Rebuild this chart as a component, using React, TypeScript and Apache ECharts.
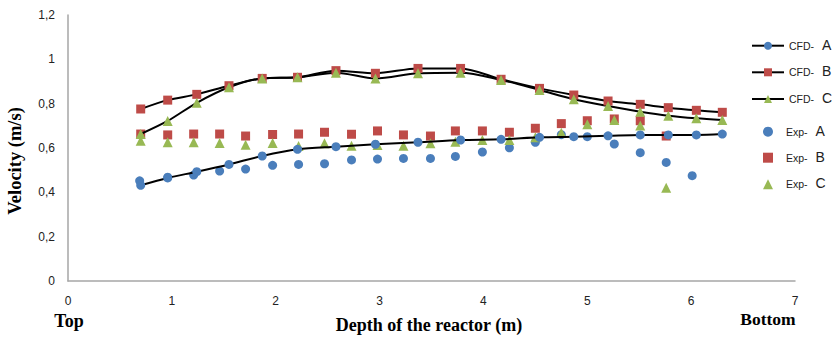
import React, { useEffect, useRef } from "react";
import * as echarts from "echarts";

const cfdDepth = [0.7, 0.96, 1.24, 1.55, 1.87, 2.21, 2.58, 2.96, 3.37, 3.78, 4.17, 4.54, 4.87, 5.2, 5.51, 5.78, 6.05, 6.3];
const cfdA = [0.432, 0.465, 0.493, 0.526, 0.564, 0.594, 0.606, 0.617, 0.626, 0.636, 0.639, 0.648, 0.651, 0.655, 0.659, 0.659, 0.659, 0.663];
const cfdB = [0.776, 0.816, 0.842, 0.881, 0.914, 0.919, 0.949, 0.937, 0.959, 0.959, 0.91, 0.869, 0.839, 0.812, 0.797, 0.782, 0.77, 0.761];
const cfdC = [0.663, 0.722, 0.804, 0.874, 0.914, 0.919, 0.94, 0.914, 0.937, 0.94, 0.907, 0.862, 0.82, 0.789, 0.764, 0.746, 0.734, 0.726];

const expDepthA = [0.69, 0.96, 1.21, 1.46, 1.71, 1.97, 2.22, 2.47, 2.73, 2.98, 3.23, 3.49, 3.73, 3.99, 4.25, 4.5, 4.75, 5.0, 5.26, 5.51, 5.76, 6.01];
const expA = [0.452, 0.468, 0.478, 0.496, 0.505, 0.522, 0.526, 0.529, 0.546, 0.55, 0.553, 0.553, 0.562, 0.582, 0.601, 0.626, 0.66, 0.651, 0.618, 0.579, 0.535, 0.475];
const expDepthBC = [0.7, 0.96, 1.21, 1.46, 1.71, 1.97, 2.22, 2.47, 2.73, 2.98, 3.23, 3.49, 3.73, 3.99, 4.25, 4.5, 4.75, 5.0, 5.26, 5.51, 5.76];
const expB = [0.663, 0.659, 0.663, 0.663, 0.654, 0.661, 0.663, 0.671, 0.662, 0.677, 0.659, 0.654, 0.677, 0.677, 0.671, 0.689, 0.71, 0.723, 0.731, 0.723, 0.654];
const expC = [0.633, 0.626, 0.626, 0.623, 0.615, 0.623, 0.609, 0.621, 0.61, 0.613, 0.61, 0.621, 0.628, 0.636, 0.636, 0.648, 0.669, 0.707, 0.726, 0.701, 0.421];

const cfdNames = ["CFD- A", "CFD- B", "CFD- C"];
const expNames = ["Exp- A", "Exp- B", "Exp- C"];

const BLUE = "#4a7ebb";
const RED = "#be4b48";
const GREEN = "#98b954";

const zip = (xs: number[], ys: number[]) => xs.map((x, i) => [x, ys[i]]);

export default function App() {
  const ref = useRef<HTMLDivElement>(null);
  useEffect(() => {
    if (!ref.current) return;
    const chart = echarts.init(ref.current, null, { renderer: "svg" });
    const sans = "Liberation Sans, Arial, sans-serif";
    const mkRich = (padA: number) => ({
      a: { fontFamily: sans, fontSize: 10.5, color: "#222", lineHeight: 16, padding: [0, 0, 0, padA] },
      b: { fontFamily: sans, fontSize: 14, color: "#222", lineHeight: 16, padding: [0, 0, 2, 8] },
    });
    const fmt = (n: string) => `{a|${n.split(" ")[0]}}{b|${n.split(" ")[1]}}`;
    const cfdCenters = [45.7, 72.3, 99];
    const expCenters = [131.7, 157.7, 184.3];
    const legends = [
      ...cfdNames.map((n, i) => ({
        orient: "vertical",
        left: 751,
        top: cfdCenters[i] - 8,
        padding: 0,
        itemWidth: 32,
        itemHeight: 10,
        data: [n],
        formatter: fmt,
        textStyle: { rich: mkRich(0) },
      })),
      ...expNames.map((n, i) => ({
        orient: "vertical",
        left: 763,
        top: expCenters[i] - 8,
        padding: 0,
        itemWidth: 10,
        itemHeight: 10,
        data: [n],
        formatter: fmt,
        textStyle: { rich: mkRich(8) },
      })),
    ];
    const lineSeries = (name: string, data: number[], color: string, symbol: string, size: number) => ({
      name,
      type: "line",
      data: zip(cfdDepth, data),
      smooth: 0.3,
      symbol,
      symbolSize: size,
      lineStyle: { color: "#000", width: 2 },
      itemStyle: { color },
      z: 3,
    });
    const scatterSeries = (name: string, xs: number[], data: number[], color: string, symbol: string, size: number) => ({
      name,
      type: "scatter",
      data: zip(xs, data),
      symbol,
      symbolSize: size,
      itemStyle: { color, opacity: 1 },
      z: 2,
    });
    const serif = "'Liberation Serif', 'Times New Roman', serif";
    chart.setOption({
      animation: false,
      backgroundColor: "#fff",
      grid: { left: 68, right: 40, top: 15, bottom: 57 },
      xAxis: {
        type: "value",
        min: 0,
        max: 7,
        interval: 1,
        axisLine: { show: true, lineStyle: { color: "#a6a6a6", width: 1.5 } },
        axisTick: { show: false },
        splitLine: { show: false },
        axisLabel: { margin: 14, fontSize: 12, color: "#222", fontFamily: "Liberation Sans Narrow, Arial Narrow, sans-serif" },
      },
      yAxis: {
        type: "value",
        min: 0,
        max: 1.2,
        interval: 0.2,
        axisLine: { show: true, lineStyle: { color: "#a6a6a6", width: 1.5 } },
        axisTick: { show: false },
        splitLine: { show: false },
        axisLabel: {
          margin: 13,
          fontSize: 12,
          color: "#222",
          fontFamily: "Liberation Sans Narrow, Arial Narrow, sans-serif",
          formatter: (v: number) => String(Number(v.toFixed(1))).replace(".", ","),
        },
      },
      legend: legends,
      graphic: [
        {
          type: "text",
          x: 15,
          y: 161,
          rotation: Math.PI / 2,
          style: {
            text: "Velocity (m/s)",
            font: `bold 18.5px ${serif}`,
            fill: "#000",
            align: "center",
            verticalAlign: "middle",
          },
        },
        {
          type: "text",
          x: 429,
          y: 325,
          style: {
            text: "Depth of the reactor (m)",
            font: `bold 18px ${serif}`,
            fill: "#000",
            align: "center",
            verticalAlign: "middle",
          },
        },
        {
          type: "text",
          x: 69,
          y: 321,
          style: {
            text: "Top",
            font: `bold 18px ${serif}`,
            fill: "#000",
            align: "center",
            verticalAlign: "middle",
          },
        },
        {
          type: "text",
          x: 768,
          y: 319,
          style: {
            text: "Bottom",
            font: `bold 17.5px ${serif}`,
            fill: "#000",
            align: "center",
            verticalAlign: "middle",
          },
        },
      ],
      series: [
        lineSeries(cfdNames[0], cfdA, BLUE, "circle", 9),
        lineSeries(cfdNames[1], cfdB, RED, "rect", 9),
        lineSeries(cfdNames[2], cfdC, GREEN, "triangle", 10),
        scatterSeries(expNames[0], expDepthA, expA, BLUE, "circle", 9),
        scatterSeries(expNames[1], expDepthBC, expB, RED, "rect", 9),
        scatterSeries(expNames[2], expDepthBC, expC, GREEN, "triangle", 10),
      ],
    });
    return () => chart.dispose();
  }, []);
  return <div ref={ref} style={{ width: 835, height: 338, position: "absolute", left: 0, top: 0 }} />;
}
